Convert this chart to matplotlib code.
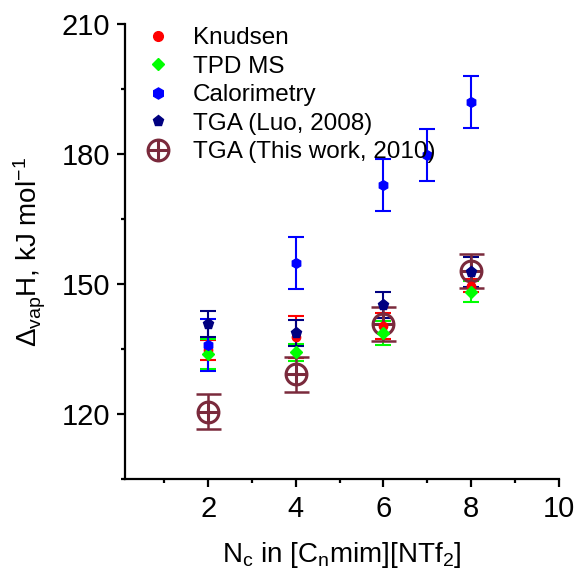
import matplotlib
matplotlib.use("Agg")
import matplotlib.pyplot as plt
from matplotlib.path import Path
from matplotlib.lines import Line2D

plt.rcParams['font.family'] = ['Liberation Sans', 'DejaVu Sans']
plt.rcParams['mathtext.fontset'] = 'custom'
plt.rcParams['mathtext.rm'] = 'Liberation Sans'
plt.rcParams['mathtext.it'] = 'Liberation Sans:italic'
plt.rcParams['mathtext.bf'] = 'Liberation Sans:bold'

# Data
knud_x = [2, 4, 6, 8]
knud_y = [134.8, 137.8, 140.4, 149.6]
knud_e = [2.3, 4.8, 3.0, 1.5]

tpd_x = [2, 4, 6, 8]
tpd_y = [133.9, 134.3, 138.8, 148.3]
tpd_e = [3.5, 2.0, 2.8, 2.5]

cal_x = [2, 4, 6, 7, 8]
cal_y = [135.9, 154.8, 172.9, 179.8, 192.0]
cal_e = [6.0, 6.0, 6.0, 6.0, 6.0]

luo_x = [2, 4, 6, 8]
luo_y = [140.8, 138.8, 145.2, 152.8]
luo_e = [3.0, 3.0, 3.0, 3.5]

tw_x = [2, 4, 6, 8]
tw_y = [120.6, 129.2, 140.8, 153.1]
tw_e = [4.0, 4.0, 4.0, 3.9]

labels = ['Knudsen', 'TPD MS', 'Calorimetry', 'TGA (Luo, 2008)', 'TGA (This work, 2010)']

# circle-plus marker
circ = Path.unit_circle()
cross = Path([(-1, 0), (1, 0), (0, -1), (0, 1)],
             [Path.MOVETO, Path.LINETO, Path.MOVETO, Path.LINETO])
oplus = Path.make_compound_path(circ, cross)

fig = plt.figure(figsize=(5.76, 5.76), dpi=100)
ax = fig.add_axes([0.217, 0.168, 0.753, 0.790])

red, green, blue, navy, maroon = '#ff0000', '#00ff00', '#0000ff', '#000080', '#7a2a3c'
ekw = dict(capsize=5.5, elinewidth=1.5, capthick=1.5)
ax.errorbar(knud_x, knud_y, yerr=knud_e, fmt='o', color=red, ms=6, **ekw)
ax.errorbar(tpd_x, tpd_y, yerr=tpd_e, fmt='D', color=green, ms=6, **ekw)
ax.errorbar(cal_x, cal_y, yerr=cal_e, fmt='h', color=blue, ms=7, **ekw)
ax.errorbar(luo_x, luo_y, yerr=luo_e, fmt='p', color=navy, ms=8, **ekw)
ax.errorbar(tw_x, tw_y, yerr=tw_e, fmt='none', ecolor=maroon,
            capsize=9, elinewidth=1.8, capthick=1.8)
ax.plot(tw_x, tw_y, linestyle='none', marker=oplus, ms=15, mfc='none',
        mec=maroon, mew=2.2)

ax.set_xlim(0.1, 10)
ax.set_ylim(105, 210)
ax.set_xticks([2, 4, 6, 8, 10])
ax.set_xticks([1, 3, 5, 7, 9], minor=True)
ax.set_yticks([120, 150, 180, 210])
ax.set_yticks([105, 135, 165, 195], minor=True)

for s in ['top', 'right']:
    ax.spines[s].set_visible(False)
for s in ['left', 'bottom']:
    ax.spines[s].set_linewidth(1.6)

ax.tick_params(axis='both', which='major', direction='out', length=5.5,
               width=1.6, labelsize=21)
ax.tick_params(axis='x', which='major', pad=6)
ax.tick_params(axis='y', which='major', pad=5)
ax.tick_params(axis='both', which='minor', direction='out', length=3,
               width=1.6)

ax.set_xlabel(r'N$_{\rm c}$ in [C$_{\rm n}$mim][NTf$_2$]', fontsize=20, labelpad=12)
ax.set_ylabel(r'$\Delta_{\rm vap}$H, kJ mol$^{-1}$', fontsize=20, labelpad=10)

handles = [
    Line2D([], [], ls='none', marker='o', color=red, ms=7),
    Line2D([], [], ls='none', marker='D', color=green, ms=6),
    Line2D([], [], ls='none', marker='h', color=blue, ms=8),
    Line2D([], [], ls='none', marker='p', color=navy, ms=8),
    Line2D([], [], ls='none', marker=oplus, ms=15, mfc='none', mec=maroon, mew=2.2),
]
ax.legend(handles, labels, loc='upper left', bbox_to_anchor=(0.232, 0.97),
          bbox_transform=fig.transFigure, frameon=False, fontsize=17.5,
          handletextpad=0.85, labelspacing=0.27, handlelength=1.2,
          borderaxespad=0)

fig.savefig('out.png', dpi=100)
